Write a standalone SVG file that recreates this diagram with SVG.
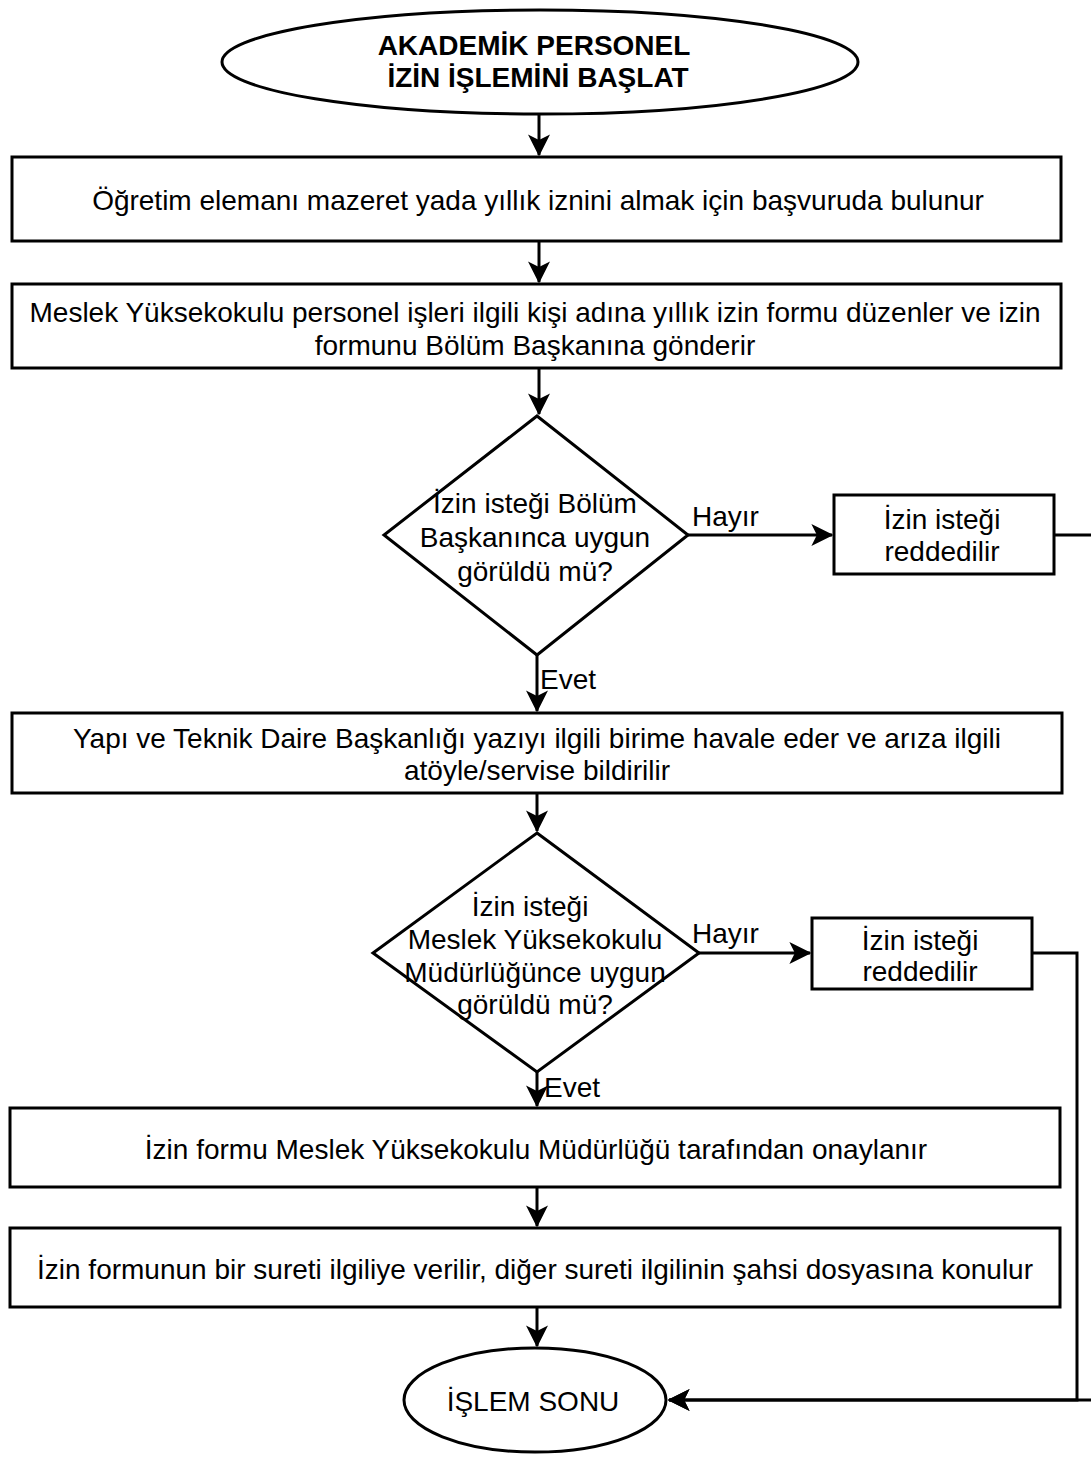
<svg xmlns="http://www.w3.org/2000/svg" width="1091" height="1457" viewBox="0 0 1091 1457">
<style>
.s{fill:#fff;stroke:#000;stroke-width:3}
.t{font-family:"Liberation Sans",Arial,sans-serif;font-size:28px;fill:#000;text-anchor:middle;dominant-baseline:central}
.b{font-weight:bold}
.c{fill:none;stroke:#000;stroke-width:3}
.l{font-family:"Liberation Sans",Arial,sans-serif;font-size:28px;fill:#000;dominant-baseline:central}
</style>
<defs>
<marker id="m" viewBox="0 0 16 16" refX="15" refY="8" markerWidth="22" markerHeight="22" orient="auto" markerUnits="userSpaceOnUse">
<path d="M0,0 L16,8 L0,16 L4,8 Z" fill="#000"/>
</marker>
</defs>
<g id="connectors">
<path class="c" d="M539,115 V155" marker-end="url(#m)"/>
<path class="c" d="M539,242 V282" marker-end="url(#m)"/>
<path class="c" d="M539,369 V414" marker-end="url(#m)"/>
<path class="c" d="M688,535 H832" marker-end="url(#m)"/>
<path class="c" d="M1054,535 H1100 V1400 H669" marker-end="url(#m)"/>
<path class="c" d="M537,655 V711" marker-end="url(#m)"/>
<path class="c" d="M537,794 V831" marker-end="url(#m)"/>
<path class="c" d="M699,953 H810" marker-end="url(#m)"/>
<path class="c" d="M1032,953 H1077 V1400 H669" marker-end="url(#m)"/>
<path class="c" d="M537,1072 V1106" marker-end="url(#m)"/>
<path class="c" d="M537,1188 V1226" marker-end="url(#m)"/>
<path class="c" d="M537,1308 V1346" marker-end="url(#m)"/>
<text class="l" x="692" y="516">Hayır</text>
<text class="l" x="540" y="679">Evet</text>
<text class="l" x="692" y="933">Hayır</text>
<text class="l" x="544" y="1087">Evet</text>
</g>
<g id="start">
<ellipse class="s" cx="540" cy="62" rx="318" ry="52"/>
<text class="t b" x="534" y="45">AKADEMİK PERSONEL</text>
<text class="t b" x="538" y="77">İZİN İŞLEMİNİ BAŞLAT</text>
</g>
<g id="n1">
<rect class="s" x="12" y="157" width="1049" height="84"/>
<text class="t" x="538" y="200">Öğretim elemanı mazeret yada yıllık iznini almak için başvuruda bulunur</text>
</g>
<g id="n2">
<rect class="s" x="12" y="284" width="1049" height="84"/>
<text class="t" x="535" y="312">Meslek Yüksekokulu personel işleri ilgili kişi adına yıllık izin formu düzenler ve izin</text>
<text class="t" x="535" y="345">formunu Bölüm Başkanına gönderir</text>
</g>
<g id="d1">
<path class="s" d="M537,416 L688,535 L537,655 L384,535 Z"/>
<text class="t" x="535" y="503">İzin isteği Bölüm</text>
<text class="t" x="535" y="537">Başkanınca uygun</text>
<text class="t" x="535" y="571">görüldü mü?</text>
</g>
<g id="r1">
<rect class="s" x="834" y="495" width="220" height="79"/>
<text class="t" x="942" y="519">İzin isteği</text>
<text class="t" x="942" y="551">reddedilir</text>
</g>
<g id="n3">
<rect class="s" x="12" y="713" width="1050" height="80"/>
<text class="t" x="537" y="738">Yapı ve Teknik Daire Başkanlığı yazıyı ilgili birime havale eder ve arıza ilgili</text>
<text class="t" x="537" y="770">atöyle/servise bildirilir</text>
</g>
<g id="d2">
<path class="s" d="M537,833 L699,953 L537,1072 L373,953 Z"/>
<text class="t" x="530" y="906">İzin isteği</text>
<text class="t" x="535" y="939">Meslek Yüksekokulu</text>
<text class="t" x="535" y="972">Müdürlüğünce uygun</text>
<text class="t" x="535" y="1004">görüldü mü?</text>
</g>
<g id="r2">
<rect class="s" x="812" y="918" width="220" height="71"/>
<text class="t" x="920" y="940">İzin isteği</text>
<text class="t" x="920" y="971">reddedilir</text>
</g>
<g id="n4">
<rect class="s" x="10" y="1108" width="1050" height="79"/>
<text class="t" x="536" y="1149">İzin formu Meslek Yüksekokulu Müdürlüğü tarafından onaylanır</text>
</g>
<g id="n5">
<rect class="s" x="10" y="1228" width="1050" height="79"/>
<text class="t" x="535" y="1269">İzin formunun bir sureti ilgiliye verilir, diğer sureti ilgilinin şahsi dosyasına konulur</text>
</g>
<g id="end">
<ellipse class="s" cx="535" cy="1400" rx="131" ry="52"/>
<text class="t" x="533" y="1401">İŞLEM SONU</text>
</g>
</svg>
